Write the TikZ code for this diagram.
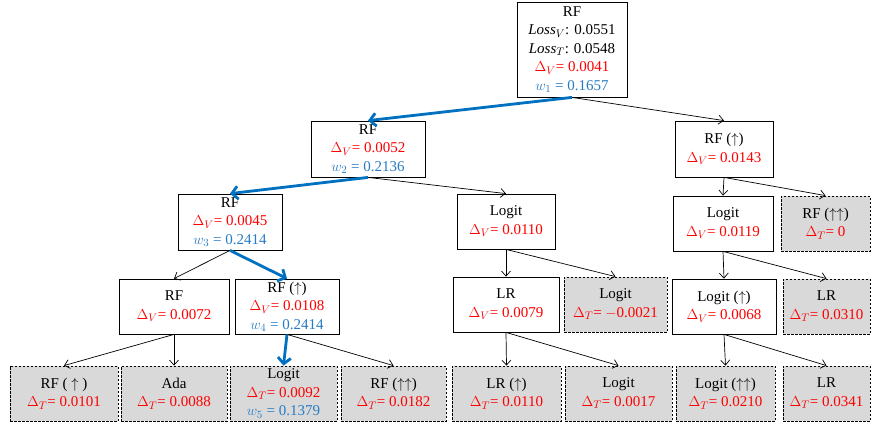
\documentclass[tikz,border=0pt]{standalone}
\usepackage{fontspec}
\setmainfont{Liberation Serif}
\usetikzlibrary{arrows.meta}

\definecolor{dred}{RGB}{255,0,0}
\definecolor{wblue}{RGB}{40,124,196}
\definecolor{pathblue}{RGB}{0,112,192}
\definecolor{leafgray}{RGB}{217,217,217}

\newcommand{\dV}[1]{\textcolor{dred}{$\Delta_{V}$= #1}}
\newcommand{\dT}[1]{\textcolor{dred}{$\Delta_{T}$= #1}}
\newcommand{\wt}[2]{\textcolor{wblue}{$w_{#1}$ = #2}}

\tikzset{
  valbox/.style={draw, line width=0.8pt, fill=white, align=center, inner sep=1pt,
    font=\fontsize{15}{18.5}\selectfont},
  testbox/.style={valbox, fill=leafgray, dash pattern=on 2.5pt off 1.5pt},
  edge/.style={->, line width=0.7pt},
  best/.style={-{Straight Barb[length=6pt,width=13pt]}, pathblue, line width=2.8pt},
  >={Straight Barb[length=5pt,width=9pt]}
}

\begin{document}
\begin{tikzpicture}[x=1pt,y=-1pt]
  \useasboundingbox (0,0) rectangle (872,431);

  % root
  \node[valbox, minimum width=110pt, minimum height=95pt] (root) at (572,49.5)
    {RF\\ $\mathit{Loss}_{V}$: 0.0551\\ $\mathit{Loss}_{T}$: 0.0548\\ \dV{0.0041}\\ \wt{1}{0.1657}};

  % level 1
  \node[valbox, minimum width=114pt, minimum height=56pt] (l1a) at (368,149) {RF\\ \dV{0.0052}\\ \wt{2}{0.2136}};
  \node[valbox, minimum width=98pt, minimum height=56pt] (l1b) at (724,149) {RF ($\uparrow$)\\ \dV{0.0143}};

  % level 2
  \node[valbox, minimum width=104pt, minimum height=56pt] (l2a) at (230,222) {RF\\ \dV{0.0045}\\ \wt{3}{0.2414}};
  \node[valbox, minimum width=98pt, minimum height=55pt] (l2b) at (506,221.5) {Logit\\ \dV{0.0110}};
  \node[valbox, minimum width=100pt, minimum height=55pt] (l2c) at (723,223.5) {Logit\\ \dV{0.0119}};
  \node[testbox, minimum width=89pt, minimum height=55pt] (l2d) at (825.5,223.5) {RF ($\uparrow\uparrow$)\\ \dT{0}};

  % level 3
  \node[valbox, minimum width=110pt, minimum height=55pt] (l3a) at (174,306.5) {RF\\ \dV{0.0072}};
  \node[valbox, minimum width=104pt, minimum height=55pt] (l3b) at (287,306.5) {RF ($\uparrow$)\\ \dV{0.0108}\\ \wt{4}{0.2414}};
  \node[valbox, minimum width=106pt, minimum height=55pt] (l3c) at (506,304.5) {LR\\ \dV{0.0079}};
  \node[testbox, minimum width=103pt, minimum height=55pt] (l3d) at (615.5,304.5) {Logit\\ \dT{$-$0.0021}};
  \node[valbox, minimum width=104pt, minimum height=55pt] (l3e) at (724,306.5) {Logit ($\uparrow$)\\ \dV{0.0068}};
  \node[testbox, minimum width=87pt, minimum height=55pt] (l3f) at (826.5,306.5) {LR\\ \dT{0.0310}};

  % level 4
  \node[testbox, minimum width=108pt, minimum height=55pt] (l4a) at (64,393.5) {RF ( $\uparrow$ )\\ \dT{0.0101}};
  \node[testbox, minimum width=106pt, minimum height=55pt] (l4b) at (174,393.5) {Ada\\ \dT{0.0088}};
  \node[testbox, minimum width=107pt, minimum height=55pt] (l4c) at (283.5,393.5) {Logit\\ \dT{0.0092}\\ \wt{5}{0.1379}};
  \node[testbox, minimum width=105pt, minimum height=55pt] (l4d) at (393.5,393.5) {RF ($\uparrow\uparrow$)\\ \dT{0.0182}};
  \node[testbox, minimum width=109pt, minimum height=55pt] (l4e) at (506.5,393.5) {LR ($\uparrow$)\\ \dT{0.0110}};
  \node[testbox, minimum width=107pt, minimum height=55pt] (l4f) at (618.5,393.5) {Logit\\ \dT{0.0017}};
  \node[testbox, minimum width=99pt, minimum height=55pt] (l4g) at (725.5,393.5) {Logit ($\uparrow\uparrow$)\\ \dT{0.0210}};
  \node[testbox, minimum width=87pt, minimum height=55pt] (l4h) at (826.5,393.5) {LR\\ \dT{0.0341}};

  % plain branches
  \foreach \a/\b in {root/l1b, l1a/l2b, l1b/l2c, l1b/l2d, l2a/l3a, l2b/l3c, l2b/l3d,
                     l2c/l3e, l2c/l3f, l3a/l4a, l3a/l4b, l3b/l4d, l3c/l4e, l3c/l4f,
                     l3e/l4g, l3e/l4h}
    \draw[edge] (\a.south) -- (\b.north);

  % selected path
  \foreach \a/\b in {root/l1a, l1a/l2a, l2a/l3b, l3b/l4c}
    \draw[best] (\a.south) -- (\b.north);
\end{tikzpicture}
\end{document}
